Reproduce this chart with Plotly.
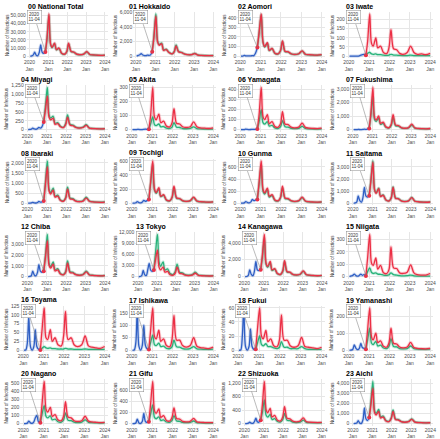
import plotly.graph_objects as go
from datetime import date

W, H = 440, 439

NAMES = ["00 National Total", "01 Hokkaido", "02 Aomori", "03 Iwate",
         "04 Miyagi", "05 Akita", "06 Yamagata", "07 Fukushima",
         "08 Ibaraki", "09 Tochigi", "10 Gunma", "11 Saitama",
         "12 Chiba", "13 Tokyo", "14 Kanagawa", "15 Niigata",
         "16 Toyama", "17 Ishikawa", "18 Fukui", "19 Yamanashi",
         "20 Nagano", "21 Gifu", "22 Shizuoka", "23 Aichi"]

BLUE_DATES = ["2020-01-15", "2020-02-15", "2020-03-15", "2020-04-10", "2020-05-10",
              "2020-06-10", "2020-07-10", "2020-08-05", "2020-09-01", "2020-10-01",
              "2020-11-04"]
RED_DATES = ["2020-11-04", "2020-12-05", "2021-01-12", "2021-02-12", "2021-03-15",
             "2021-05-01", "2021-06-05", "2021-07-25", "2021-09-15", "2021-11-15",
             "2021-12-25", "2022-01-28", "2022-03-15", "2022-05-10", "2022-07-01",
             "2022-09-01", "2022-11-15", "2023-01-15", "2023-03-15", "2023-05-15",
             "2023-08-01", "2023-10-15", "2023-12-31"]
X_TICKS = ["2020-01-01", "2021-01-01", "2022-01-01", "2023-01-01", "2024-01-01"]
X_LABELS = ["2020<br>Jan", "2021<br>Jan", "2022<br>Jan", "2023<br>Jan", "2024<br>Jan"]
X_RANGE = ["2019-11-11", "2024-02-21"]
MARK_DATE = "2020-11-04"
MARK_LABEL = "2020<br>11-04"

P00_Y = [0, 10000, 20000, 30000, 40000, 50000]
P00_B = [0, 200, 1500, 5000, 1200, 500, 5000, 14000, 5000, 3500, 5000]
P00_R = [5000, 22000, 52000, 15000, 11000, 16000, 8000, 10000, 3500, 2500, 6000, 16000, 6000, 5000, 2500, 1800, 2500, 5500, 2000, 1500, 1200, 900, 1200]
P00_G = [5000, 21000, 50000, 14500, 10500, 15500, 7800, 9500, 3300, 2400, 5800, 15000, 5800, 4800, 2400, 1700, 2400, 5200, 1900, 1400, 1100, 850, 1100]

P01_Y = [0, 2000, 4000, 6000]
P01_B = [0, 100, 200, 350, 150, 80, 60, 150, 100, 150, 600]
P01_R = [600, 2500, 5500, 2000, 1500, 1700, 800, 900, 500, 300, 600, 1400, 600, 500, 300, 200, 200, 350, 150, 100, 80, 70, 80]
P01_G = [600, 2700, 5800, 2100, 1600, 1800, 850, 950, 520, 320, 650, 1550, 650, 520, 310, 210, 210, 380, 160, 110, 85, 75, 85]

P02_Y = [0, 100, 200, 300, 400]
P02_B = [0, 0, 8, 3, 2, 2, 3, 5, 5, 30, 90]
P02_R = [90, 250, 440, 150, 100, 140, 60, 80, 30, 25, 60, 160, 50, 45, 25, 18, 25, 55, 20, 15, 12, 10, 15]
P02_G = [90, 240, 430, 145, 95, 135, 58, 78, 29, 24, 58, 155, 48, 43, 24, 17, 24, 52, 19, 14, 11, 9, 14]

P03_Y = [0, 50, 100, 150, 200]
P03_B = [0, 0, 0, 0, 0, 0, 2, 5, 8, 10, 5]
P03_R = [5, 80, 230, 70, 55, 100, 45, 55, 20, 15, 50, 145, 40, 35, 15, 10, 20, 55, 20, 10, 12, 8, 15]
P03_G = [5, 15, 20, 12, 10, 12, 8, 8, 5, 4, 6, 10, 6, 5, 4, 3, 3, 5, 3, 3, 3, 3, 3]

P04_Y = [0, 250, 500, 750, 1000, 1250]
P04_B = [0, 5, 15, 40, 20, 10, 30, 60, 40, 80, 220]
P04_R = [220, 550, 950, 350, 280, 320, 150, 170, 80, 60, 150, 350, 130, 110, 60, 45, 60, 120, 40, 30, 25, 20, 25]
P04_G = [220, 650, 1200, 420, 330, 380, 180, 200, 95, 70, 180, 420, 150, 130, 70, 50, 70, 140, 45, 35, 28, 22, 28]

P05_Y = [0, 100, 200, 300]
P05_B = [0, 0, 0, 1, 1, 0, 0, 2, 3, 2, 3]
P05_R = [3, 100, 300, 90, 70, 110, 50, 60, 25, 20, 50, 150, 45, 40, 20, 15, 20, 55, 20, 12, 10, 8, 12]
P05_G = [3, 40, 90, 35, 28, 40, 20, 22, 10, 8, 18, 50, 17, 15, 8, 6, 8, 20, 7, 5, 4, 3, 4]

P06_Y = [0, 100, 200, 300, 400]
P06_B = [0, 0, 0, 5, 2, 0, 1, 3, 2, 3, 5]
P06_R = [5, 150, 420, 130, 100, 150, 60, 80, 30, 25, 60, 180, 55, 50, 25, 18, 25, 65, 22, 15, 12, 10, 14]
P06_G = [5, 80, 200, 70, 55, 80, 35, 42, 16, 13, 30, 90, 28, 25, 13, 9, 13, 32, 11, 8, 6, 5, 7]

P07_Y = [0, 1000, 2000, 3000]
P07_B = [0, 0, 2, 10, 5, 2, 10, 30, 20, 40, 80]
P07_R = [80, 1200, 3100, 900, 700, 1000, 450, 550, 200, 150, 400, 1100, 350, 300, 150, 100, 150, 400, 130, 90, 70, 60, 80]
P07_G = [80, 1000, 2400, 750, 600, 850, 380, 450, 170, 130, 330, 900, 290, 250, 130, 85, 130, 330, 110, 75, 60, 50, 65]

P08_Y = [0, 500, 1000, 1500, 2000]
P08_B = [0, 2, 10, 40, 15, 5, 30, 80, 50, 60, 100]
P08_R = [100, 900, 1800, 600, 450, 650, 300, 350, 130, 100, 250, 700, 220, 190, 100, 70, 100, 250, 90, 60, 45, 40, 50]
P08_G = [100, 1000, 2100, 700, 520, 750, 340, 400, 150, 115, 290, 800, 250, 220, 115, 80, 115, 290, 100, 70, 52, 45, 58]

P09_Y = [0, 200, 400, 600]
P09_B = [0, 0, 5, 20, 8, 3, 15, 40, 25, 35, 50]
P09_R = [50, 300, 600, 200, 150, 220, 100, 120, 45, 35, 85, 240, 75, 65, 35, 25, 35, 85, 30, 20, 16, 13, 17]
P09_G = [50, 280, 550, 185, 140, 200, 92, 110, 42, 32, 78, 220, 70, 60, 32, 23, 32, 78, 28, 18, 15, 12, 16]

P10_Y = [0, 200, 400, 600]
P10_B = [0, 0, 5, 25, 10, 3, 20, 60, 40, 50, 60]
P10_R = [60, 350, 700, 230, 170, 250, 115, 140, 50, 40, 100, 280, 85, 75, 40, 28, 40, 100, 35, 24, 18, 15, 20]
P10_G = [60, 320, 620, 205, 150, 225, 100, 125, 45, 36, 90, 250, 76, 67, 36, 25, 36, 90, 31, 21, 16, 13, 18]

P11_Y = [0, 1000, 2000, 3000]
P11_B = [0, 10, 100, 600, 200, 80, 500, 1300, 600, 500, 600]
P11_R = [600, 1800, 3400, 1100, 800, 1200, 550, 650, 250, 180, 450, 1300, 400, 350, 180, 130, 180, 450, 150, 110, 85, 70, 90]
P11_G = [600, 1900, 3500, 1150, 850, 1250, 580, 680, 260, 190, 470, 1350, 420, 370, 190, 135, 190, 470, 160, 115, 90, 75, 95]

P12_Y = [0, 1000, 2000, 3000]
P12_B = [0, 10, 80, 500, 150, 60, 400, 1100, 500, 400, 500]
P12_R = [500, 1700, 3300, 1050, 780, 1150, 520, 620, 240, 170, 430, 1250, 380, 330, 170, 120, 170, 430, 145, 105, 80, 65, 85]
P12_G = [500, 1900, 3900, 1250, 920, 1350, 620, 730, 280, 200, 500, 1450, 450, 390, 200, 140, 200, 500, 170, 125, 95, 78, 100]

P13_Y = [0, 3000, 6000, 9000, 12000]
P13_B = [0, 20, 300, 1700, 500, 300, 2000, 3600, 1800, 1400, 1800]
P13_R = [1800, 4500, 7200, 2500, 1800, 2600, 1200, 1400, 500, 400, 1000, 2600, 900, 750, 400, 280, 400, 900, 320, 230, 180, 150, 190]
P13_G = [1800, 6500, 11500, 4000, 2800, 4000, 1800, 2100, 800, 600, 1500, 3400, 1200, 1000, 550, 380, 550, 1200, 420, 300, 230, 190, 240]

P14_Y = [0, 2000, 4000]
P14_B = [0, 10, 150, 800, 250, 100, 700, 1800, 800, 700, 800]
P14_R = [800, 2500, 5000, 1600, 1200, 1800, 800, 950, 360, 270, 680, 1900, 600, 520, 270, 190, 270, 680, 230, 165, 125, 100, 130]
P14_G = [800, 2300, 4500, 1450, 1100, 1650, 730, 870, 330, 250, 620, 1750, 550, 480, 250, 175, 250, 620, 210, 150, 115, 95, 120]

P15_Y = [0, 100, 200, 300]
P15_B = [0, 5, 10, 20, 8, 3, 10, 20, 10, 15, 5]
P15_R = [5, 150, 340, 110, 90, 150, 60, 90, 30, 25, 60, 240, 70, 65, 30, 25, 35, 95, 30, 15, 12, 12, 25]
P15_G = [5, 40, 70, 35, 25, 30, 20, 18, 12, 10, 15, 30, 15, 12, 8, 6, 7, 12, 6, 4, 3, 3, 4]

P16_Y = [0, 25, 50, 75, 100, 125]
P16_B = [0, 0, 20, 95, 10, 0, 10, 58, 10, 2, 0]
P16_R = [0, 60, 120, 35, 30, 58, 25, 35, 15, 12, 40, 110, 30, 35, 15, 10, 15, 40, 12, 8, 6, 5, 10]
P16_G = [0, 5, 10, 6, 5, 6, 4, 4, 3, 3, 3, 5, 3, 3, 2, 2, 2, 3, 2, 2, 2, 2, 2]

P17_Y = [0, 50, 100, 150]
P17_B = [0, 0, 30, 160, 15, 0, 20, 100, 20, 5, 2]
P17_R = [2, 80, 170, 55, 45, 80, 35, 45, 18, 14, 45, 140, 40, 40, 18, 12, 18, 50, 15, 10, 8, 6, 12]
P17_G = [2, 30, 60, 22, 18, 28, 14, 16, 7, 6, 14, 40, 13, 12, 6, 4, 6, 14, 5, 4, 3, 3, 4]

P18_Y = [0, 20, 40, 60]
P18_B = [0, 0, 20, 60, 5, 0, 5, 30, 5, 1, 1]
P18_R = [1, 30, 60, 20, 16, 28, 12, 16, 6, 5, 15, 50, 14, 14, 6, 4, 6, 18, 5, 4, 3, 2, 4]
P18_G = [1, 10, 20, 8, 6, 9, 5, 5, 3, 2, 4, 12, 4, 4, 2, 2, 2, 5, 2, 1, 1, 1, 1]

P19_Y = [0, 100, 200]
P19_B = [0, 0, 5, 30, 10, 2, 10, 40, 15, 10, 5]
P19_R = [5, 120, 250, 80, 60, 100, 45, 55, 22, 18, 45, 130, 40, 36, 18, 13, 18, 45, 15, 10, 8, 7, 10]
P19_G = [5, 60, 130, 42, 32, 52, 24, 29, 12, 9, 24, 68, 21, 19, 9, 7, 9, 24, 8, 5, 4, 4, 5]

P20_Y = [0, 100, 200, 300, 400, 500]
P20_B = [0, 0, 5, 30, 8, 2, 20, 70, 100, 20, 10]
P20_R = [10, 250, 520, 180, 140, 200, 90, 110, 45, 35, 90, 270, 80, 70, 35, 25, 35, 90, 30, 20, 15, 12, 15]
P20_G = [10, 120, 220, 90, 70, 95, 45, 55, 22, 18, 45, 130, 40, 35, 18, 12, 18, 45, 15, 10, 8, 6, 8]

P21_Y = [0, 200, 400, 600]
P21_B = [0, 0, 10, 80, 10, 2, 40, 180, 40, 20, 30]
P21_R = [30, 350, 750, 230, 180, 260, 110, 140, 55, 45, 110, 280, 90, 80, 40, 30, 40, 90, 30, 22, 18, 15, 18]
P21_G = [30, 170, 330, 110, 85, 120, 55, 65, 27, 22, 55, 140, 45, 40, 20, 15, 20, 45, 15, 11, 9, 7, 9]

P22_Y = [0, 400, 800, 1200]
P22_B = [0, 0, 10, 40, 10, 5, 60, 160, 50, 40, 100]
P22_R = [100, 550, 1250, 420, 320, 450, 200, 240, 100, 80, 200, 500, 160, 140, 70, 50, 70, 170, 55, 40, 32, 28, 32]
P22_G = [100, 330, 700, 250, 190, 270, 120, 145, 60, 48, 120, 300, 95, 85, 42, 30, 42, 100, 33, 24, 19, 17, 19]

P23_Y = [0, 1000, 2000, 3000, 4000]
P23_B = [0, 10, 50, 300, 40, 20, 400, 1550, 500, 300, 600]
P23_R = [600, 1800, 3500, 1100, 850, 1200, 550, 650, 250, 200, 500, 1200, 400, 350, 180, 130, 180, 420, 140, 100, 80, 65, 80]
P23_G = [600, 2200, 4200, 1300, 1000, 1400, 650, 750, 300, 230, 580, 1350, 450, 400, 200, 150, 200, 470, 160, 115, 90, 75, 90]

PANELS = [
    (P00_Y, P00_B, P00_R, P00_G), (P01_Y, P01_B, P01_R, P01_G), (P02_Y, P02_B, P02_R, P02_G), (P03_Y, P03_B, P03_R, P03_G),
    (P04_Y, P04_B, P04_R, P04_G), (P05_Y, P05_B, P05_R, P05_G), (P06_Y, P06_B, P06_R, P06_G), (P07_Y, P07_B, P07_R, P07_G),
    (P08_Y, P08_B, P08_R, P08_G), (P09_Y, P09_B, P09_R, P09_G), (P10_Y, P10_B, P10_R, P10_G), (P11_Y, P11_B, P11_R, P11_G),
    (P12_Y, P12_B, P12_R, P12_G), (P13_Y, P13_B, P13_R, P13_G), (P14_Y, P14_B, P14_R, P14_G), (P15_Y, P15_B, P15_R, P15_G),
    (P16_Y, P16_B, P16_R, P16_G), (P17_Y, P17_B, P17_R, P17_G), (P18_Y, P18_B, P18_R, P18_G), (P19_Y, P19_B, P19_R, P19_G),
    (P20_Y, P20_B, P20_R, P20_G), (P21_Y, P21_B, P21_R, P21_G), (P22_Y, P22_B, P22_R, P22_G), (P23_Y, P23_B, P23_R, P23_G),
]

C_BLUE = "#2F5FC4"
C_RED = "#EC2F45"
C_GREEN = "#27B37A"
FONT = "Liberation Sans, Arial, sans-serif"
TXT = "#4D4D4D"

fig = go.Figure()
layout = dict(width=W, height=H, margin=dict(l=0, r=0, t=0, b=0),
              paper_bgcolor="white", plot_bgcolor="white", showlegend=False,
              font=dict(family=FONT, size=5, color=TXT))
annotations = []


def fmt(v):
    return f"{v:,}"


def dnum(s):
    return date.fromisoformat(s).toordinal()


t0, t1 = dnum(X_RANGE[0]), dnum(X_RANGE[1])

for i, (name, (yt, blue, red, green)) in enumerate(zip(NAMES, PANELS)):
    r, c = divmod(i, 4)
    X0 = c * 110
    Y0 = -3 + r * 74.5
    nch = max(len(fmt(v)) for v in yt)
    xl = X0 + 11 + 2.2 * nch
    xr = X0 + 106
    tx = X0 + 16 + max(0, nch - 5) * 7
    ytop = Y0 + 12
    ybot = Y0 + 59
    n = i + 1
    xs = "x" if n == 1 else f"x{n}"
    ys = "y" if n == 1 else f"y{n}"
    xk = "xaxis" if n == 1 else f"xaxis{n}"
    yk = "yaxis" if n == 1 else f"yaxis{n}"
    M = max(max(blue), max(red), max(green))
    ymin, ymax = -0.05 * M, 1.05 * M
    layout[xk] = dict(domain=[xl / W, xr / W], anchor=ys, type="date",
                      range=X_RANGE, tickvals=X_TICKS, ticktext=X_LABELS,
                      tickfont=dict(size=5, color=TXT), ticks="", ticklen=0,
                      showgrid=True, gridcolor="#E6E6E6", gridwidth=0.5,
                      zeroline=False, showline=False)
    layout[yk] = dict(domain=[1 - ybot / H, 1 - ytop / H], anchor=xs,
                      range=[ymin, ymax],
                      tickvals=yt, ticktext=[fmt(v) for v in yt],
                      tickfont=dict(size=5, color=TXT), ticks="", ticklen=0,
                      showgrid=True, gridcolor="#E6E6E6", gridwidth=0.5,
                      zeroline=False, showline=False)
    for xd, yd, col, halo in ((RED_DATES, green, C_GREEN, "rgba(39,179,122,0.22)"),
                              (RED_DATES, red, C_RED, "rgba(236,47,69,0.22)"),
                              (BLUE_DATES, blue, C_BLUE, "rgba(47,95,196,0.22)")):
        fig.add_trace(go.Scatter(x=xd, y=yd, mode="lines", xaxis=xs, yaxis=ys,
                                 line=dict(color=halo, width=3.2, shape="spline", smoothing=0.9),
                                 hoverinfo="skip"))
        fig.add_trace(go.Scatter(x=xd, y=yd, mode="lines", xaxis=xs, yaxis=ys,
                                 line=dict(color=col, width=1.3, shape="spline", smoothing=0.9)))
    fig.add_trace(go.Scatter(x=[MARK_DATE], y=[red[0]], mode="markers", xaxis=xs, yaxis=ys,
                             marker=dict(color=C_RED, size=4)))
    px = xl + (dnum(MARK_DATE) - t0) / (t1 - t0) * (xr - xl)
    py = ybot - (red[0] - ymin) / (ymax - ymin) * (ybot - ytop)
    annotations.append(dict(x=MARK_DATE, y=red[0], xref=xs, yref=ys,
                            ax=(xl + 8) - px, ay=(ytop + 6) - py,
                            text=MARK_LABEL, showarrow=True, arrowhead=0, arrowwidth=0.5,
                            arrowcolor="#777777", font=dict(size=4.5, color="#333333", family=FONT),
                            bgcolor="white", bordercolor="#888888", borderwidth=0.5, borderpad=1))
    annotations.append(dict(x=tx / W, y=1 - (Y0 + 6.5) / H, xref="paper", yref="paper",
                            text=f"<b>{name}</b>", showarrow=False, xanchor="left", yanchor="middle",
                            font=dict(size=7, color="black", family=FONT)))
    annotations.append(dict(x=(X0 + 4) / W, y=1 - (ytop + ybot) / 2 / H, xref="paper", yref="paper",
                            text="Number of Infectious", textangle=-90, showarrow=False,
                            xanchor="center", yanchor="middle",
                            font=dict(size=4.5, color="#333333", family=FONT)))

layout["annotations"] = annotations
fig.update_layout(**layout)
fig.write_html("out.html", config={"displayModeBar": False},
               post_script="document.body.style.margin='0';")
